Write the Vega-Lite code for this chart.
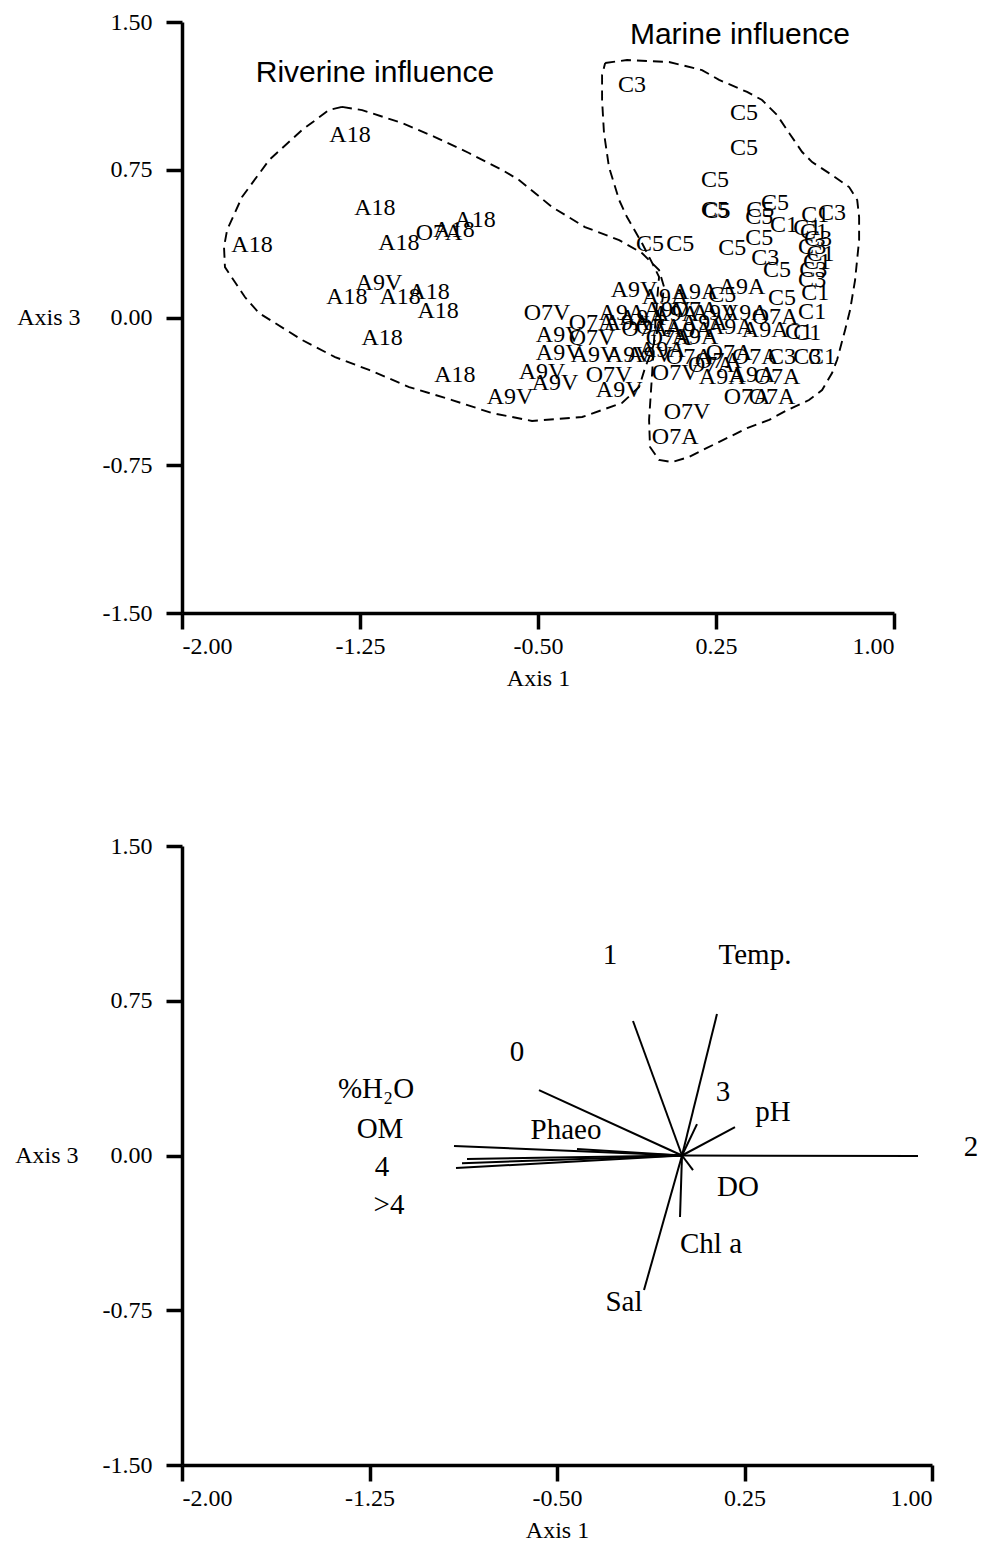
{
  "$schema": "https://vega.github.io/schema/vega-lite/v6.json",
  "background": "white",
  "padding": {"left": 14, "top": 10, "right": 5, "bottom": 5},
  "spacing": 144,
  "config": {
    "view": {"stroke": null},
    "axis": {
      "grid": false,
      "domainColor": "black",
      "domainWidth": 3.5,
      "tickColor": "black",
      "tickWidth": 3.5,
      "tickSize": 16,
      "labelFont": "Liberation Serif",
      "labelFontSize": 24,
      "labelColor": "black",
      "titleFont": "Liberation Serif",
      "titleFontSize": 24,
      "titleFontWeight": "normal",
      "titleColor": "black"
    }
  },
  "datasets": {
    "samples": [
      {"label": "A18", "x": -1.292, "y": 0.926},
      {"label": "A18", "x": -1.187, "y": 0.556},
      {"label": "A18", "x": -1.705, "y": 0.368},
      {"label": "A18", "x": -1.086, "y": 0.378},
      {"label": "O7A", "x": -0.917, "y": 0.429},
      {"label": "A18", "x": -0.854, "y": 0.444},
      {"label": "A18", "x": -0.765, "y": 0.495},
      {"label": "A9V", "x": -1.170, "y": 0.175},
      {"label": "A18", "x": -1.305, "y": 0.104},
      {"label": "A18", "x": -1.081, "y": 0.104},
      {"label": "A18", "x": -0.959, "y": 0.129},
      {"label": "A18", "x": -0.921, "y": 0.033},
      {"label": "A18", "x": -1.157, "y": -0.104},
      {"label": "A18", "x": -0.850, "y": -0.292},
      {"label": "A9V", "x": -0.618, "y": -0.404},
      {"label": "O7V", "x": -0.462, "y": 0.023},
      {"label": "A9A", "x": -0.146, "y": 0.023},
      {"label": "A9V", "x": 0.044, "y": 0.038},
      {"label": "O7A", "x": 0.162, "y": 0.038},
      {"label": "A9V", "x": 0.246, "y": 0.023},
      {"label": "A9A", "x": 0.373, "y": 0.023},
      {"label": "O7A", "x": 0.499, "y": 0.003},
      {"label": "C1", "x": 0.655, "y": 0.028},
      {"label": "O7A", "x": -0.272, "y": -0.028},
      {"label": "A9A", "x": -0.125, "y": -0.028},
      {"label": "O7A", "x": 0.010, "y": -0.048},
      {"label": "A9A", "x": 0.137, "y": -0.063},
      {"label": "A9A", "x": 0.457, "y": -0.063},
      {"label": "C1", "x": 0.600, "y": -0.074},
      {"label": "A9V", "x": -0.411, "y": -0.089},
      {"label": "O7V", "x": -0.272, "y": -0.104},
      {"label": "O7A", "x": 0.052, "y": -0.104},
      {"label": "A9A", "x": 0.162, "y": -0.099},
      {"label": "A9V", "x": -0.411, "y": -0.180},
      {"label": "A9V", "x": -0.264, "y": -0.190},
      {"label": "A9V", "x": -0.116, "y": -0.190},
      {"label": "A9A", "x": 0.023, "y": -0.165},
      {"label": "O7A", "x": 0.137, "y": -0.201},
      {"label": "O7A", "x": 0.305, "y": -0.180},
      {"label": "O7A", "x": 0.415, "y": -0.201},
      {"label": "C3", "x": 0.528, "y": -0.201},
      {"label": "C3", "x": 0.634, "y": -0.201},
      {"label": "C1", "x": 0.697, "y": -0.201},
      {"label": "A9V", "x": -0.483, "y": -0.277},
      {"label": "O7V", "x": -0.201, "y": -0.292},
      {"label": "O7V", "x": 0.078, "y": -0.282},
      {"label": "A9A", "x": 0.276, "y": -0.302},
      {"label": "A9A", "x": 0.402, "y": -0.292},
      {"label": "O7A", "x": 0.507, "y": -0.302},
      {"label": "A9V", "x": -0.428, "y": -0.333},
      {"label": "A9V", "x": -0.158, "y": -0.368},
      {"label": "O7A", "x": 0.381, "y": -0.404},
      {"label": "O7A", "x": 0.486, "y": -0.404},
      {"label": "O7V", "x": 0.128, "y": -0.480},
      {"label": "O7A", "x": 0.078, "y": -0.607},
      {"label": "A9A", "x": 0.360, "y": 0.155},
      {"label": "A9V", "x": -0.095, "y": 0.140},
      {"label": "A9A", "x": 0.035, "y": 0.104},
      {"label": "A9A", "x": 0.162, "y": 0.129},
      {"label": "C5", "x": 0.276, "y": 0.114},
      {"label": "C1", "x": 0.634, "y": -0.079},
      {"label": "A9A", "x": 0.080, "y": 0.020},
      {"label": "O7A", "x": -0.050, "y": -0.060},
      {"label": "A9A", "x": 0.200, "y": -0.030},
      {"label": "A9V", "x": -0.030, "y": -0.190},
      {"label": "O7A", "x": 0.230, "y": -0.240},
      {"label": "A9A", "x": 0.310, "y": -0.050},
      {"label": "O7A", "x": 0.260, "y": -0.220},
      {"label": "A9A", "x": -0.060, "y": 0.000},
      {"label": "C3", "x": -0.104, "y": 1.180},
      {"label": "C5", "x": 0.368, "y": 1.038},
      {"label": "C5", "x": 0.368, "y": 0.860},
      {"label": "C5", "x": 0.246, "y": 0.698},
      {"label": "C5", "x": 0.246, "y": 0.546},
      {"label": "C5", "x": 0.252, "y": 0.542},
      {"label": "C5", "x": 0.499, "y": 0.581},
      {"label": "C5", "x": 0.436, "y": 0.546},
      {"label": "C5", "x": 0.432, "y": 0.510},
      {"label": "C1", "x": 0.537, "y": 0.470},
      {"label": "C1", "x": 0.634, "y": 0.454},
      {"label": "C1", "x": 0.668, "y": 0.520},
      {"label": "C3", "x": 0.739, "y": 0.530},
      {"label": "C1", "x": 0.663, "y": 0.434},
      {"label": "C3", "x": 0.655, "y": 0.358},
      {"label": "C3", "x": 0.680, "y": 0.400},
      {"label": "C1", "x": 0.690, "y": 0.320},
      {"label": "C1", "x": 0.676, "y": 0.282},
      {"label": "C3", "x": 0.660, "y": 0.240},
      {"label": "C3", "x": 0.655, "y": 0.190},
      {"label": "C1", "x": 0.668, "y": 0.124},
      {"label": "C5", "x": -0.028, "y": 0.373},
      {"label": "C5", "x": 0.099, "y": 0.373},
      {"label": "C5", "x": 0.318, "y": 0.353},
      {"label": "C5", "x": 0.432, "y": 0.404},
      {"label": "C3", "x": 0.457, "y": 0.302},
      {"label": "C5", "x": 0.507, "y": 0.241},
      {"label": "C5", "x": 0.528, "y": 0.099}
    ],
    "hulls": [
      {"group": "riverine", "order": 1, "x": -1.326, "y": 1.069},
      {"group": "riverine", "order": 2, "x": -1.241, "y": 1.053},
      {"group": "riverine", "order": 3, "x": -1.073, "y": 0.987},
      {"group": "riverine", "order": 4, "x": -0.934, "y": 0.916},
      {"group": "riverine", "order": 5, "x": -0.791, "y": 0.835},
      {"group": "riverine", "order": 6, "x": -0.651, "y": 0.749},
      {"group": "riverine", "order": 7, "x": -0.580, "y": 0.698},
      {"group": "riverine", "order": 8, "x": -0.441, "y": 0.561},
      {"group": "riverine", "order": 9, "x": -0.302, "y": 0.459},
      {"group": "riverine", "order": 10, "x": -0.158, "y": 0.393},
      {"group": "riverine", "order": 11, "x": -0.062, "y": 0.327},
      {"group": "riverine", "order": 12, "x": 0.010, "y": 0.241},
      {"group": "riverine", "order": 13, "x": 0.031, "y": 0.155},
      {"group": "riverine", "order": 14, "x": 0.014, "y": -0.013},
      {"group": "riverine", "order": 15, "x": -0.019, "y": -0.165},
      {"group": "riverine", "order": 16, "x": -0.049, "y": -0.256},
      {"group": "riverine", "order": 17, "x": -0.074, "y": -0.353},
      {"group": "riverine", "order": 18, "x": -0.146, "y": -0.434},
      {"group": "riverine", "order": 19, "x": -0.314, "y": -0.505},
      {"group": "riverine", "order": 20, "x": -0.525, "y": -0.525},
      {"group": "riverine", "order": 21, "x": -0.694, "y": -0.485},
      {"group": "riverine", "order": 22, "x": -0.862, "y": -0.419},
      {"group": "riverine", "order": 23, "x": -1.043, "y": -0.353},
      {"group": "riverine", "order": 24, "x": -1.212, "y": -0.266},
      {"group": "riverine", "order": 25, "x": -1.355, "y": -0.201},
      {"group": "riverine", "order": 26, "x": -1.494, "y": -0.114},
      {"group": "riverine", "order": 27, "x": -1.676, "y": 0.023},
      {"group": "riverine", "order": 28, "x": -1.735, "y": 0.104},
      {"group": "riverine", "order": 29, "x": -1.819, "y": 0.256},
      {"group": "riverine", "order": 30, "x": -1.823, "y": 0.358},
      {"group": "riverine", "order": 31, "x": -1.810, "y": 0.444},
      {"group": "riverine", "order": 32, "x": -1.747, "y": 0.612},
      {"group": "riverine", "order": 33, "x": -1.633, "y": 0.799},
      {"group": "riverine", "order": 34, "x": -1.494, "y": 0.952},
      {"group": "riverine", "order": 35, "x": -1.381, "y": 1.053},
      {"group": "riverine", "order": 36, "x": -1.326, "y": 1.069},
      {"group": "marine", "order": 1, "x": -0.217, "y": 1.292},
      {"group": "marine", "order": 2, "x": -0.125, "y": 1.307},
      {"group": "marine", "order": 3, "x": 0.052, "y": 1.297},
      {"group": "marine", "order": 4, "x": 0.191, "y": 1.256},
      {"group": "marine", "order": 5, "x": 0.263, "y": 1.206},
      {"group": "marine", "order": 6, "x": 0.381, "y": 1.145},
      {"group": "marine", "order": 7, "x": 0.444, "y": 1.104},
      {"group": "marine", "order": 8, "x": 0.507, "y": 1.028},
      {"group": "marine", "order": 9, "x": 0.558, "y": 0.937},
      {"group": "marine", "order": 10, "x": 0.613, "y": 0.840},
      {"group": "marine", "order": 11, "x": 0.655, "y": 0.789},
      {"group": "marine", "order": 12, "x": 0.739, "y": 0.723},
      {"group": "marine", "order": 13, "x": 0.811, "y": 0.662},
      {"group": "marine", "order": 14, "x": 0.845, "y": 0.596},
      {"group": "marine", "order": 15, "x": 0.853, "y": 0.510},
      {"group": "marine", "order": 16, "x": 0.853, "y": 0.393},
      {"group": "marine", "order": 17, "x": 0.836, "y": 0.190},
      {"group": "marine", "order": 18, "x": 0.815, "y": 0.038},
      {"group": "marine", "order": 19, "x": 0.794, "y": -0.063},
      {"group": "marine", "order": 20, "x": 0.760, "y": -0.216},
      {"group": "marine", "order": 21, "x": 0.739, "y": -0.282},
      {"group": "marine", "order": 22, "x": 0.697, "y": -0.368},
      {"group": "marine", "order": 23, "x": 0.642, "y": -0.419},
      {"group": "marine", "order": 24, "x": 0.550, "y": -0.470},
      {"group": "marine", "order": 25, "x": 0.474, "y": -0.520},
      {"group": "marine", "order": 26, "x": 0.381, "y": -0.561},
      {"group": "marine", "order": 27, "x": 0.305, "y": -0.607},
      {"group": "marine", "order": 28, "x": 0.212, "y": -0.662},
      {"group": "marine", "order": 29, "x": 0.137, "y": -0.708},
      {"group": "marine", "order": 30, "x": 0.065, "y": -0.734},
      {"group": "marine", "order": 31, "x": 0.010, "y": -0.723},
      {"group": "marine", "order": 32, "x": -0.028, "y": -0.657},
      {"group": "marine", "order": 33, "x": -0.032, "y": -0.520},
      {"group": "marine", "order": 34, "x": -0.019, "y": -0.282},
      {"group": "marine", "order": 35, "x": -0.011, "y": -0.114},
      {"group": "marine", "order": 36, "x": 0.002, "y": 0.089},
      {"group": "marine", "order": 37, "x": 0.010, "y": 0.206},
      {"group": "marine", "order": 38, "x": -0.019, "y": 0.277},
      {"group": "marine", "order": 39, "x": -0.062, "y": 0.378},
      {"group": "marine", "order": 40, "x": -0.125, "y": 0.510},
      {"group": "marine", "order": 41, "x": -0.158, "y": 0.596},
      {"group": "marine", "order": 42, "x": -0.201, "y": 0.764},
      {"group": "marine", "order": 43, "x": -0.222, "y": 0.937},
      {"group": "marine", "order": 44, "x": -0.230, "y": 1.104},
      {"group": "marine", "order": 45, "x": -0.230, "y": 1.231},
      {"group": "marine", "order": 46, "x": -0.217, "y": 1.292}
    ],
    "notes": [
      {"label": "Riverine influence", "x": -1.187, "y": 1.241},
      {"label": "Marine influence", "x": 0.351, "y": 1.434}
    ],
    "vectors": [
      {"label": "Temp.", "x0": 0, "y0": 0, "x": 0.140, "y": 0.686},
      {"label": "1", "x0": 0, "y0": 0, "x": -0.196, "y": 0.652},
      {"label": "0", "x0": 0, "y0": 0, "x": -0.572, "y": 0.317},
      {"label": "3", "x0": 0, "y0": 0, "x": 0.060, "y": 0.152},
      {"label": "pH", "x0": 0, "y0": 0, "x": 0.212, "y": 0.138},
      {"label": "2", "x0": 0, "y0": 0, "x": 0.944, "y": -0.003},
      {"label": "DO", "x0": 0, "y0": 0, "x": 0.044, "y": -0.071},
      {"label": "Chl a", "x0": 0, "y0": 0, "x": -0.008, "y": -0.298},
      {"label": "Sal", "x0": 0, "y0": 0, "x": -0.152, "y": -0.652},
      {"label": "Phaeo", "x0": 0, "y0": 0, "x": -0.420, "y": 0.031},
      {"label": "%H2O", "x0": 0, "y0": 0, "x": -0.912, "y": 0.046},
      {"label": "OM", "x0": 0, "y0": 0, "x": -0.860, "y": -0.017},
      {"label": "4", "x0": 0, "y0": 0, "x": -0.880, "y": -0.037},
      {"label": ">4", "x0": 0, "y0": 0, "x": -0.904, "y": -0.061}
    ],
    "vlabels": [
      {"label": "Temp.", "x": 0.292, "y": 0.972},
      {"label": "1", "x": -0.288, "y": 0.972},
      {"label": "0", "x": -0.660, "y": 0.501},
      {"label": "3", "x": 0.164, "y": 0.308},
      {"label": "pH", "x": 0.364, "y": 0.211},
      {"label": "2", "x": 1.156, "y": 0.041},
      {"label": "DO", "x": 0.224, "y": -0.153},
      {"label": "Chl a", "x": 0.116, "y": -0.429},
      {"label": "Sal", "x": -0.232, "y": -0.710},
      {"label": "Phaeo", "x": -0.464, "y": 0.123},
      {"label": "%H₂O", "x": -1.224, "y": 0.322},
      {"label": "OM", "x": -1.208, "y": 0.128},
      {"label": "4", "x": -1.200, "y": -0.056},
      {"label": ">4", "x": -1.172, "y": -0.240}
    ]
  },
  "vconcat": [
    {
      "width": 712,
      "height": 591,
      "encoding": {
        "x": {"field": "x", "type": "quantitative", "title": "Axis 1",
          "scale": {"domain": [-2, 1], "nice": false, "zero": false},
          "axis": {"values": [-2, -1.25, -0.5, 0.25, 1], "labelExpr": "(datum.value < 0 ? '-' : '') + format(abs(datum.value), '.2f')", "labelPadding": 5, "titlePadding": 8}},
        "y": {"field": "y", "type": "quantitative", "title": "Axis 3",
          "scale": {"domain": [-1.5, 1.5], "nice": false, "zero": false},
          "axis": {"values": [-1.5, -0.75, 0, 0.75, 1.5], "labelExpr": "(datum.value < 0 ? '-' : '') + format(abs(datum.value), '.2f')", "labelPadding": 14, "titleAngle": 0, "titleAlign": "right", "titleBaseline": "middle", "titleX": -102, "titleY": 295.5}}
      },
      "layer": [
        {"data": {"name": "hulls"}, "mark": {"type": "line", "color": "black", "strokeWidth": 1.9, "strokeDash": [10, 6]},
          "encoding": {"detail": {"field": "group"}, "order": {"field": "order", "type": "quantitative"}}},
        {"data": {"name": "samples"}, "mark": {"type": "text", "font": "Liberation Serif", "fontSize": 24, "color": "black", "align": "center", "baseline": "middle"},
          "encoding": {"text": {"field": "label"}}},
        {"data": {"name": "notes"}, "mark": {"type": "text", "font": "Liberation Sans", "fontSize": 30, "color": "black", "align": "center", "baseline": "middle"},
          "encoding": {"text": {"field": "label"}}}
      ]
    },
    {
      "width": 750,
      "height": 619,
      "encoding": {
        "x": {"field": "x", "type": "quantitative", "title": "Axis 1",
          "scale": {"domain": [-2, 1], "nice": false, "zero": false},
          "axis": {"values": [-2, -1.25, -0.5, 0.25, 1], "labelExpr": "(datum.value < 0 ? '-' : '') + format(abs(datum.value), '.2f')", "labelPadding": 5, "titlePadding": 8}},
        "y": {"field": "y", "type": "quantitative", "title": "Axis 3",
          "scale": {"domain": [-1.5, 1.5], "nice": false, "zero": false},
          "axis": {"values": [-1.5, -0.75, 0, 0.75, 1.5], "labelExpr": "(datum.value < 0 ? '-' : '') + format(abs(datum.value), '.2f')", "labelPadding": 14, "titleAngle": 0, "titleAlign": "right", "titleBaseline": "middle", "titleX": -104, "titleY": 309.5}}
      },
      "layer": [
        {"data": {"name": "vectors"}, "mark": {"type": "rule", "color": "black", "strokeWidth": 2},
          "encoding": {"x2": {"field": "x0"}, "y2": {"field": "y0"}}},
        {"data": {"name": "vlabels"}, "mark": {"type": "text", "font": "Liberation Serif", "fontSize": 29, "color": "black", "align": "center", "baseline": "middle"},
          "encoding": {"text": {"field": "label"}}}
      ]
    }
  ]
}
